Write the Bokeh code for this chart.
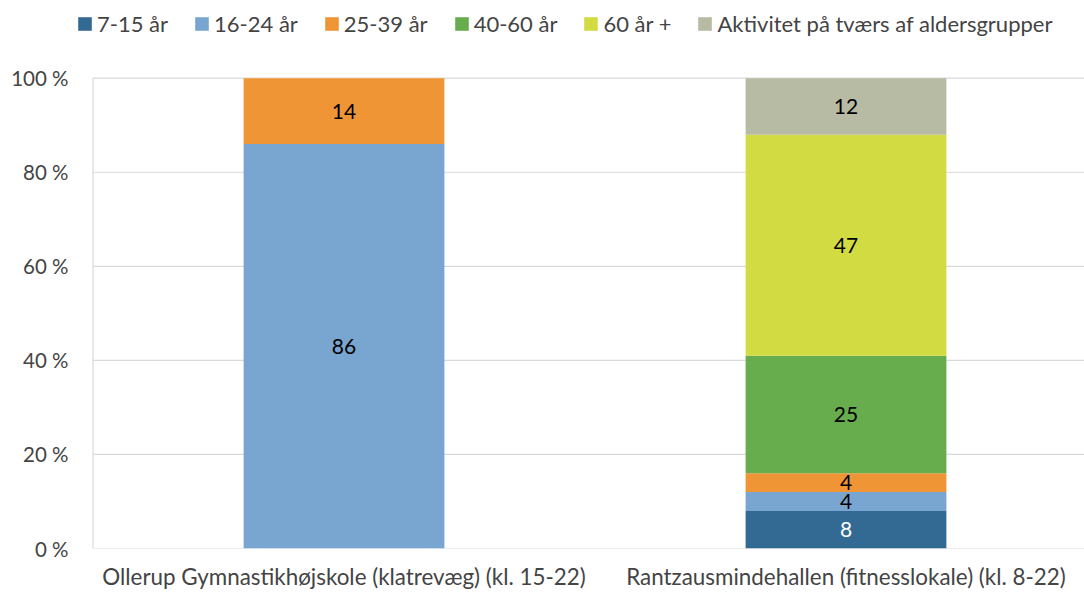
from bokeh.plotting import figure
from bokeh.models import ColumnDataSource, Legend, LegendItem, FixedTicker, Range1d
from bokeh.core.properties import value
from bokeh.embed import file_html
from bokeh.resources import INLINE

categories = ["Ollerup Gymnastikhøjskole (klatrevæg) (kl. 15-22)",
              "Rantzausmindehallen (fitnesslokale) (kl. 8-22)"]
series = ["7-15 år", "16-24 år", "25-39 år", "40-60 år", "60 år +",
          "Aktivitet på tværs af aldersgrupper"]
v_7_15 = [0, 8]
v_16_24 = [86, 4]
v_25_39 = [14, 4]
v_40_60 = [0, 25]
v_60p = [0, 47]
v_akt = [0, 12]
colors = ["#336a93", "#78a6d0", "#f09536", "#67ad4e", "#d3db42", "#b8bba3"]
label_colors = ["white", "black", "black", "black", "black", "black"]
y_ticks = [0, 20, 40, 60, 80, 100]

FONT = "Lato"
values = [v_7_15, v_16_24, v_25_39, v_40_60, v_60p, v_akt]
xs = list(range(len(categories)))

W, H = 1084, 592
LEFT, BOTTOM = 76, 42
X0, X1 = -0.5329, 1.4751
Y_END = 116.525
GRID = "#d9d9d9"

p = figure(width=W, height=H, output_backend="svg", toolbar_location=None,
           x_range=Range1d(X0, X1), y_range=Range1d(0, Y_END))
p.min_border_left = LEFT
p.min_border_right = 0
p.min_border_bottom = BOTTOM
p.min_border_top = 0
p.outline_line_color = None
p.background_fill_color = "white"
p.border_fill_color = "white"

# gridlines and left axis line limited to the plotting area (0..100 %)
p.segment(x0=[-0.5] * len(y_ticks), x1=[X1] * len(y_ticks), y0=y_ticks, y1=y_ticks,
          line_color=GRID, line_width=1.2)
p.segment(x0=[-0.5], x1=[-0.5], y0=[y_ticks[0]], y1=[y_ticks[-1]],
          line_color=GRID, line_width=1.2)

bottoms = [0] * len(categories)
items = []
for s, vals, c, lc in zip(series, values, colors, label_colors):
    tops = [b + v for b, v in zip(bottoms, vals)]
    src = ColumnDataSource(dict(x=xs, bottom=bottoms, top=tops, v=vals,
                                mid=[(b + t) / 2 for b, t in zip(bottoms, tops)],
                                lbl=[str(v) if v > 0 else "" for v in vals]))
    r = p.vbar(x="x", bottom="bottom", top="top", width=0.4, source=src,
               fill_color=c, line_color=None)
    p.text(x="x", y="mid", text="lbl", source=src, text_align="center",
           text_baseline="middle", text_font=value(FONT), text_font_size="21px",
           text_color=lc)
    items.append(LegendItem(label=s, renderers=[r]))
    bottoms = tops

legend = Legend(items=items, orientation="horizontal", location=(0, 511),
                label_text_font=FONT, label_text_font_size="22px",
                glyph_width=17, glyph_height=17, label_standoff=4, spacing=25,
                border_line_color=None, background_fill_alpha=0,
                margin=0, padding=0)
p.add_layout(legend, "center")

p.xaxis.ticker = FixedTicker(ticks=xs)
p.xaxis.major_label_overrides = {i: c for i, c in enumerate(categories)}
p.xaxis.major_label_text_font = FONT
p.xaxis.major_label_text_font_size = "22.4px"
p.xaxis.major_label_standoff = 8
p.xaxis.major_tick_line_color = None
p.xaxis.minor_tick_line_color = None
p.xaxis.axis_line_color = None

p.yaxis.ticker = FixedTicker(ticks=y_ticks)
p.yaxis.major_label_overrides = {t: f"{t} %" for t in y_ticks}
p.yaxis.major_label_text_font = FONT
p.yaxis.major_label_text_font_size = "20.5px"
p.yaxis.major_label_standoff = 2
p.yaxis.major_tick_line_color = None
p.yaxis.minor_tick_line_color = None
p.yaxis.axis_line_color = None

p.xgrid.grid_line_color = None
p.ygrid.grid_line_color = None

open("out.html", "w").write(file_html(p, INLINE))
